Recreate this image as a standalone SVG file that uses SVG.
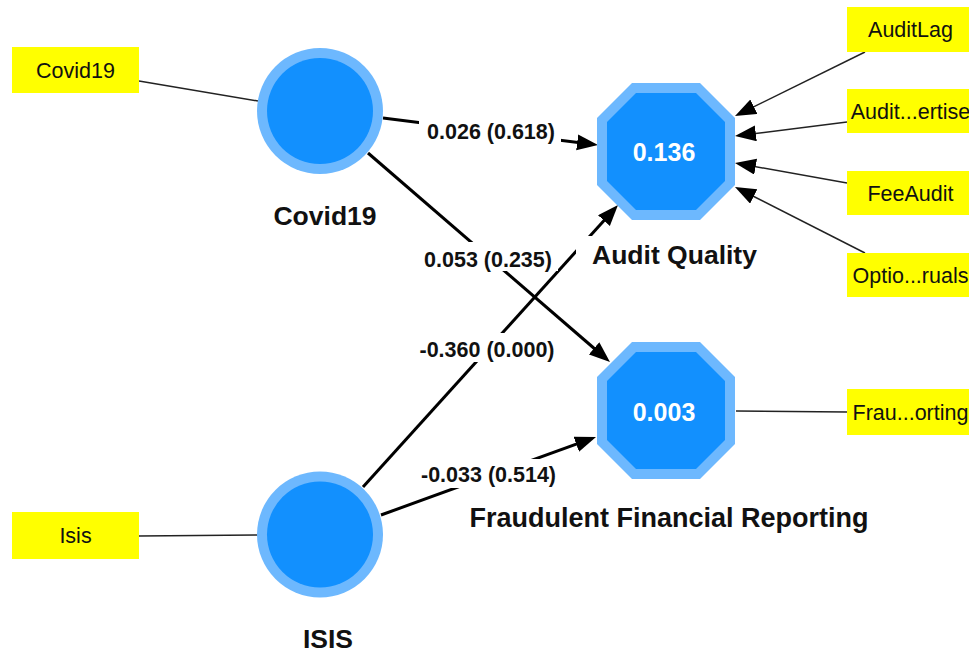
<svg xmlns="http://www.w3.org/2000/svg" width="969" height="655" viewBox="0 0 969 655">
<style>
.ring{fill:#6db8fe}
.core{fill:#1290fe}
.ind rect{fill:#ffff00}
.ind text{font-family:"Liberation Sans",Arial,sans-serif;font-size:21.5px;fill:#111;text-anchor:middle}
.lv{font-family:"Liberation Sans",Arial,sans-serif;font-size:26.5px;font-weight:bold;fill:#111;text-anchor:middle}
.val{font-family:"Liberation Sans",Arial,sans-serif;font-size:25px;font-weight:bold;fill:#fff;text-anchor:middle}
.pl{font-family:"Liberation Sans",Arial,sans-serif;font-size:21.5px;font-weight:bold;fill:#111;text-anchor:middle}
.bg{fill:#fff}
.s{stroke:#000;stroke-width:3;fill:none}
.t{stroke:#222;stroke-width:1.5;fill:none}
</style>
<defs>
<marker id="ah" markerUnits="userSpaceOnUse" markerWidth="22" markerHeight="17" refX="11" refY="8" orient="auto">
<path d="M0,0 L21,8 L0,16 Z" fill="#000"/>
</marker>
</defs>
<rect width="969" height="655" fill="#fff"/>
<g id="connectors">
<line class="t" x1="139" y1="81" x2="258" y2="101"/>
<line class="t" x1="139" y1="536" x2="258" y2="535"/>
<line class="t" x1="736" y1="411" x2="847" y2="412"/>
<line class="t" x1="865" y1="52" x2="744" y2="111.6" marker-end="url(#ah)"/>
<line class="t" x1="847" y1="122" x2="744.9" y2="134.8" marker-end="url(#ah)"/>
<line class="t" x1="847" y1="183" x2="744.8" y2="164.8" marker-end="url(#ah)"/>
<line class="t" x1="865" y1="253" x2="743.9" y2="191.5" marker-end="url(#ah)"/>
<line class="s" x1="383" y1="118" x2="588.1" y2="143.75" marker-end="url(#ah)"/>
<line class="s" x1="368" y1="153" x2="602.4" y2="355.5" marker-end="url(#ah)"/>
<line class="s" x1="363" y1="487" x2="611.3" y2="212.4" marker-end="url(#ah)"/>
<line class="s" x1="381" y1="515" x2="586.6" y2="440.4" marker-end="url(#ah)"/>
<rect class="bg" x="419" y="115" width="142" height="29"/>
<text class="pl" x="491" y="139">0.026 (0.618)</text>
<rect class="bg" x="416" y="242" width="142" height="29"/>
<text class="pl" x="488" y="267">0.053 (0.235)</text>
<rect class="bg" x="412" y="333" width="150" height="29"/>
<text class="pl" x="487" y="357">-0.360 (0.000)</text>
<rect class="bg" x="415" y="459" width="148" height="29"/>
<text class="pl" x="488.5" y="482">-0.033 (0.514)</text>
</g>
<g id="covid19">
<circle class="ring" cx="320" cy="111" r="63"/>
<circle class="core" cx="320" cy="111" r="53"/>
<text class="lv" x="325" y="225">Covid19</text>
</g>
<g id="isis">
<circle class="ring" cx="320" cy="534.5" r="63"/>
<circle class="core" cx="320" cy="534.5" r="53"/>
<text class="lv" x="328" y="648">ISIS</text>
</g>
<g id="audit-quality">
<polygon class="ring" points="632,83 700,83 735,118 735,185 700,220 632,220 597,185 597,118"/>
<polygon class="core" points="636,93 696,93 725,122 725,181 696,210 636,210 607,181 607,122"/>
<text class="val" x="664" y="161">0.136</text>
<rect class="bg" x="576" y="236" width="190" height="34"/>
<text class="lv" x="674.5" y="264">Audit Quality</text>
</g>
<g id="ffr">
<polygon class="ring" points="632,342 700,342 735,377 735,444 700,479 632,479 597,444 597,377"/>
<polygon class="core" points="636,352 696,352 725,381 725,440 696,469 636,469 607,440 607,381"/>
<text class="val" x="664" y="421">0.003</text>
<text class="lv" x="669" y="527" style="font-size:27px">Fraudulent Financial Reporting</text>
</g>
<g id="ind-covid19" class="ind"><rect x="12" y="47" width="127" height="46"/><text x="75.5" y="78">Covid19</text></g>
<g id="ind-isis" class="ind"><rect x="12" y="512" width="127" height="47"/><text x="75.5" y="543">Isis</text></g>
<g id="ind-auditlag" class="ind"><rect x="847" y="7" width="127" height="45"/><text x="910.5" y="37">AuditLag</text></g>
<g id="ind-expertise" class="ind"><rect x="847" y="89" width="127" height="44"/><text x="910.5" y="119">Audit...ertise</text></g>
<g id="ind-feeaudit" class="ind"><rect x="847" y="171" width="127" height="44"/><text x="910.5" y="201">FeeAudit</text></g>
<g id="ind-optio" class="ind"><rect x="847" y="253" width="127" height="44"/><text x="910.5" y="283">Optio...ruals</text></g>
<g id="ind-frau" class="ind"><rect x="847" y="389" width="127" height="46"/><text x="910.5" y="420">Frau...orting</text></g>
</svg>
